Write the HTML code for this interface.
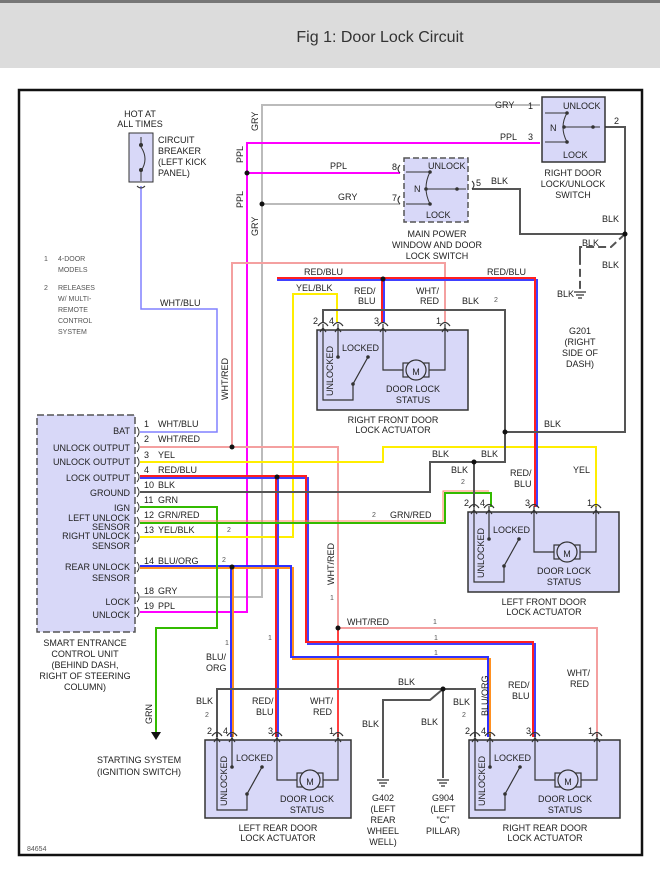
<!DOCTYPE html><html><head><style>body{margin:0;background:#fff}svg{display:block}text{font-family:"Liberation Sans",sans-serif;font-size:9px;fill:#222}.s{font-size:7px;fill:#555}.t{font-size:16px;fill:#333}</style></head><body>
<svg width="660" height="871" viewBox="0 0 660 871" xmlns="http://www.w3.org/2000/svg">
<rect x="0" y="0" width="660" height="68" fill="#dcdcdc"/><rect x="0" y="0" width="660" height="3" fill="#777"/>
<text class="t" x="380" y="42" text-anchor="middle">Fig 1: Door Lock Circuit</text>
<rect x="19" y="90" width="623" height="765" fill="none" stroke="#111" stroke-width="2.5"/>
<g fill="none" stroke-width="2">
<polyline points="141,186 141,309 217,309 217,432 140,432" stroke="#8080ff" stroke-width="1.5"/>
<polyline points="140,597 262,597 262,105 540,105" stroke="#bbb"/>
<polyline points="262,204 400,204" stroke="#bbb"/>
<polyline points="140,612 247,612 247,143 540,143" stroke="#ff00ff"/>
<polyline points="247,173 400,173" stroke="#ff00ff"/>
<polyline points="140,447 338,447 338,628 597,628 597,737" stroke="#f4a0a0"/>
<polyline points="232,447 232,263 445,263 445,322" stroke="#f4a0a0"/>
<polyline points="338,628 338,737" stroke="#ff4040"/>
<polyline points="140,462 383,462 383,447 596,447 596,507" stroke="#ffee00"/>
<polyline points="140,537 293,537 293,294 337,294 337,322" stroke="#ffee00"/>
<polyline points="140,478 308,478 308,644 535,644 535,737" stroke="#4040ff"/>
<polyline points="140,476 306,476 306,642 533,642 533,737" stroke="#ff2020"/>
<polyline points="278,477 278,737" stroke="#4040ff"/><polyline points="276,477 276,737" stroke="#ff2020"/>
<polyline points="277,280 537,280 537,507" stroke="#4040ff"/><polyline points="277,278 535,278 535,507" stroke="#ff2020"/>
<polyline points="384,279 384,322" stroke="#4040ff"/><polyline points="382,279 382,322" stroke="#ff2020"/>
<polyline points="140,568 293,568 293,659 490,659 490,737" stroke="#ff9020"/>
<polyline points="140,566 291,566 291,657 488,657 488,737" stroke="#3030ff"/>
<polyline points="233,567 233,737" stroke="#ff9020"/><polyline points="231,567 231,737" stroke="#3030ff"/>
<polyline points="140,507 217,507 217,628 156,628 156,732" stroke="#33bb00"/>
<polyline points="140,523 445,523 445,493 491,493 491,507" stroke="#33bb00"/>
<polyline points="140,521 443,521 443,491 489,491" stroke="#ff8060" stroke-width="1"/>
<g stroke="#555">
<polyline points="140,492 430,492 430,462 474,462 474,507"/>
<polyline points="474,462 505,462 505,310 323,310 323,322"/>
<polyline points="505,432 625,432 625,127 605,127"/>
<polyline points="472,189 520,189 520,234 625,234"/>
<polyline points="625,234 611,247 580,247 580,290" stroke-dasharray="8,4"/>
<polyline points="580,247 580,262"/>
<polyline points="217,737 217,689 472,689 475,689 475,737"/>
<polyline points="443,689 430,700 383,700 383,778"/>
<polyline points="443,689 443,778"/>
</g></g>
<g fill="#111"><circle cx="247" cy="173" r="2.5"/><circle cx="262" cy="204" r="2.5"/><circle cx="383" cy="279" r="2.5"/><circle cx="232" cy="447" r="2.5"/><circle cx="277" cy="477" r="2.5"/><circle cx="232" cy="567" r="2.5"/><circle cx="338" cy="628" r="2.5"/><circle cx="505" cy="432" r="2.5"/><circle cx="474" cy="462" r="2.5"/><circle cx="625" cy="234" r="2.5"/><circle cx="443" cy="689" r="2.5"/></g>
<g stroke="#333" stroke-width="1.2"><path d="M574,292h12M576,295h8M578,298h4M377,780h12M379,783h8M381,786h4M437,780h12M439,783h8M441,786h4"/></g>
<rect x="129" y="133" width="24" height="49" fill="#d8d8f8" stroke="#333"/>
<path d="M141,137v10q8,12 0,24v10M137,186q4,4 8,0" fill="none" stroke="#333"/>
<circle cx="141" cy="145" r="2" fill="#333"/><circle cx="141" cy="170" r="2" fill="#333"/>
<text x="140" y="117" text-anchor="middle">HOT AT</text><text x="140" y="127" text-anchor="middle">ALL TIMES</text>
<text x="158" y="143">CIRCUIT</text><text x="158" y="154">BREAKER</text><text x="158" y="165">(LEFT KICK</text><text x="158" y="176">PANEL)</text>
<text class="s" x="44" y="261">1</text><text class="s" x="58" y="261">4-DOOR</text><text class="s" x="58" y="272">MODELS</text>
<text class="s" x="44" y="290">2</text><text class="s" x="58" y="290">RELEASES</text><text class="s" x="58" y="301">W/ MULTI-</text><text class="s" x="58" y="312">REMOTE</text><text class="s" x="58" y="323">CONTROL</text><text class="s" x="58" y="334">SYSTEM</text>
<rect x="37" y="415" width="98" height="217" fill="#d8d8f8" stroke="#555" stroke-dasharray="7,3" stroke-width="1.5"/>
<g text-anchor="end"><text x="130" y="434">BAT</text><text x="130" y="451">UNLOCK OUTPUT</text><text x="130" y="465">UNLOCK OUTPUT</text><text x="130" y="481">LOCK OUTPUT</text><text x="130" y="496">GROUND</text><text x="130" y="511">IGN</text><text x="130" y="521">LEFT UNLOCK</text><text x="130" y="530">SENSOR</text><text x="130" y="539">RIGHT UNLOCK</text><text x="130" y="549">SENSOR</text><text x="130" y="570">REAR UNLOCK</text><text x="130" y="581">SENSOR</text><text x="130" y="605">LOCK</text><text x="130" y="618">UNLOCK</text></g>
<g text-anchor="middle"><text x="85" y="646">SMART ENTRANCE</text><text x="85" y="657">CONTROL UNIT</text><text x="85" y="668">(BEHIND DASH,</text><text x="85" y="679">RIGHT OF STEERING</text><text x="85" y="690">COLUMN)</text></g>
<g><text x="144" y="427">1</text><text x="158" y="427">WHT/BLU</text><text x="144" y="442">2</text><text x="158" y="442">WHT/RED</text><text x="144" y="458">3</text><text x="158" y="458">YEL</text><text x="144" y="473">4</text><text x="158" y="473">RED/BLU</text><text x="144" y="488">10</text><text x="158" y="488">BLK</text><text x="144" y="503">11</text><text x="158" y="503">GRN</text><text x="144" y="518">12</text><text x="158" y="518">GRN/RED</text><text x="144" y="533">13</text><text x="158" y="533">YEL/BLK</text><text x="144" y="564">14</text><text x="158" y="564">BLU/ORG</text><text x="144" y="594">18</text><text x="158" y="594">GRY</text><text x="144" y="609">19</text><text x="158" y="609">PPL</text></g>
<path d="M151,732l5,8l5,-8z" fill="#111"/>
<text x="97" y="763">STARTING SYSTEM</text><text x="97" y="775">(IGNITION SWITCH)</text>
<text x="160" y="306">WHT/BLU</text><text x="338" y="200">GRY</text><text x="330" y="169">PPL</text><text x="495" y="108">GRY</text><text x="500" y="140">PPL</text>
<text transform="translate(258,131) rotate(-90)">GRY</text><text transform="translate(258,236) rotate(-90)">GRY</text>
<text transform="translate(243,163) rotate(-90)">PPL</text><text transform="translate(243,208) rotate(-90)">PPL</text>
<text transform="translate(228,400) rotate(-90)">WHT/RED</text><text transform="translate(334,585) rotate(-90)">WHT/RED</text>
<text transform="translate(488,716) rotate(-90)">BLU/ORG</text><text transform="translate(152,724) rotate(-90)">GRN</text>
<text x="304" y="275">RED/BLU</text><text x="487" y="275">RED/BLU</text><text x="296" y="291">YEL/BLK</text>
<text x="354" y="294">RED/</text><text x="358" y="304">BLU</text><text x="416" y="294">WHT/</text><text x="420" y="304">RED</text><text x="462" y="304">BLK</text><text class="s" x="494" y="302">2</text>
<text x="491" y="184">BLK</text><text x="602" y="222">BLK</text><text x="582" y="246">BLK</text><text x="602" y="268">BLK</text><text x="557" y="297">BLK</text>
<g text-anchor="middle"><text x="580" y="334">G201</text><text x="580" y="345">(RIGHT</text><text x="580" y="356">SIDE OF</text><text x="580" y="367">DASH)</text></g>
<text x="544" y="427">BLK</text><text x="432" y="457">BLK</text><text x="481" y="457">BLK</text><text x="451" y="473">BLK</text><text class="s" x="461" y="484">2</text>
<text x="510" y="476">RED/</text><text x="514" y="487">BLU</text><text x="573" y="473">YEL</text>
<text x="390" y="518">GRN/RED</text><text class="s" x="372" y="517">2</text><text class="s" x="227" y="532">2</text><text class="s" x="222" y="562">2</text>
<text x="347" y="625">WHT/RED</text><text class="s" x="433" y="624">1</text><text class="s" x="434" y="640">1</text><text class="s" x="434" y="655">1</text><text class="s" x="330" y="600">1</text><text class="s" x="225" y="645">1</text><text class="s" x="268" y="640">1</text>
<text x="206" y="660">BLU/</text><text x="206" y="671">ORG</text>
<text x="196" y="704">BLK</text><text x="252" y="704">RED/</text><text x="256" y="715">BLU</text><text x="310" y="704">WHT/</text><text x="313" y="715">RED</text><text class="s" x="205" y="717">2</text>
<text x="398" y="685">BLK</text><text x="362" y="727">BLK</text><text x="421" y="725">BLK</text><text x="453" y="705">BLK</text><text class="s" x="462" y="717">2</text>
<text x="508" y="688">RED/</text><text x="512" y="699">BLU</text><text x="567" y="676">WHT/</text><text x="570" y="687">RED</text>
<g text-anchor="middle"><text x="383" y="801">G402</text><text x="383" y="812">(LEFT</text><text x="383" y="823">REAR</text><text x="383" y="834">WHEEL</text><text x="383" y="845">WELL)</text><text x="443" y="801">G904</text><text x="443" y="812">(LEFT</text><text x="443" y="823">"C"</text><text x="443" y="834">PILLAR)</text></g>
<text class="s" x="27" y="851">84654</text>
<rect x="404" y="158" width="64" height="64" fill="#d8d8f8" stroke="#555" stroke-dasharray="6,3" stroke-width="1.5"/>
<g stroke="#333" fill="none"><path d="M430,172h-24M430,204h-24M430,172q-8,16 0,32M426,189h40M400,173q-4,-4 0,-8M400,204q-4,-4 0,-8M472,189q4,-4 0,-8"/></g>
<g fill="#333"><circle cx="430" cy="172" r="1.8"/><circle cx="430" cy="204" r="1.8"/><circle cx="426" cy="189" r="1.8"/><circle cx="457" cy="189" r="1.8"/></g>
<text x="428" y="169">UNLOCK</text><text x="414" y="192">N</text><text x="426" y="218">LOCK</text><text x="392" y="170">8</text><text x="392" y="201">7</text><text x="476" y="186">5</text>
<g text-anchor="middle"><text x="437" y="237">MAIN POWER</text><text x="437" y="248">WINDOW AND DOOR</text><text x="437" y="259">LOCK SWITCH</text></g>
<rect x="542" y="97" width="63" height="65" fill="#d8d8f8" stroke="#333" stroke-width="1.5"/>
<g stroke="#333" fill="none"><path d="M567,113h-22M567,142h-22M567,113q-8,14 0,29M564,127h36"/></g>
<g fill="#333"><circle cx="567" cy="113" r="1.8"/><circle cx="567" cy="142" r="1.8"/><circle cx="564" cy="127" r="1.8"/><circle cx="593" cy="127" r="1.8"/></g>
<text x="563" y="109">UNLOCK</text><text x="550" y="131">N</text><text x="563" y="158">LOCK</text><text x="528" y="109">1</text><text x="528" y="140">3</text><text x="614" y="124">2</text>
<g text-anchor="middle"><text x="573" y="176">RIGHT DOOR</text><text x="573" y="187">LOCK/UNLOCK</text><text x="573" y="198">SWITCH</text></g>
<g transform="translate(317,330)">
<rect x="0" y="0" width="151" height="80" fill="#d8d8f8" stroke="#333" stroke-width="1.5"/>
<g fill="none" stroke="#333" stroke-width="1.2"><path d="M6,-6V70H36V54M21,-6V27M36,54L51,27M66,-6V40H86M112,40H128V-6M1,-4q5,-7 10,0M16,-4q5,-7 10,0M61,-4q5,-7 10,0M123,-4q5,-7 10,0M3,2l3,-4 3,4M18,2l3,-4 3,4M63,2l3,-4 3,4M125,2l3,-4 3,4"/><rect x="86" y="33" width="26" height="14"/><circle cx="99" cy="40" r="10" fill="#d8d8f8"/></g>
<g fill="#333"><circle cx="21" cy="27" r="1.8"/><circle cx="36" cy="54" r="1.8"/><circle cx="51" cy="27" r="1.8"/></g>
<text x="-4" y="-6">2</text><text x="12" y="-6">4</text><text x="57" y="-6">3</text><text x="119" y="-6">1</text>
<text x="25" y="21">LOCKED</text><text transform="translate(16,66) rotate(-90)">UNLOCKED</text><text x="99" y="45" text-anchor="middle" font-size="13">M</text>
<text x="96" y="62" text-anchor="middle">DOOR LOCK</text><text x="96" y="73" text-anchor="middle">STATUS</text>
<text x="76" y="93" text-anchor="middle">RIGHT FRONT DOOR</text><text x="76" y="103" text-anchor="middle">LOCK ACTUATOR</text></g>
<g transform="translate(468,512)">
<rect x="0" y="0" width="151" height="80" fill="#d8d8f8" stroke="#333" stroke-width="1.5"/>
<g fill="none" stroke="#333" stroke-width="1.2"><path d="M6,-6V70H36V54M21,-6V27M36,54L51,27M66,-6V40H86M112,40H128V-6M1,-4q5,-7 10,0M16,-4q5,-7 10,0M61,-4q5,-7 10,0M123,-4q5,-7 10,0M3,2l3,-4 3,4M18,2l3,-4 3,4M63,2l3,-4 3,4M125,2l3,-4 3,4"/><rect x="86" y="33" width="26" height="14"/><circle cx="99" cy="40" r="10" fill="#d8d8f8"/></g>
<g fill="#333"><circle cx="21" cy="27" r="1.8"/><circle cx="36" cy="54" r="1.8"/><circle cx="51" cy="27" r="1.8"/></g>
<text x="-4" y="-6">2</text><text x="12" y="-6">4</text><text x="57" y="-6">3</text><text x="119" y="-6">1</text>
<text x="25" y="21">LOCKED</text><text transform="translate(16,66) rotate(-90)">UNLOCKED</text><text x="99" y="45" text-anchor="middle" font-size="13">M</text>
<text x="96" y="62" text-anchor="middle">DOOR LOCK</text><text x="96" y="73" text-anchor="middle">STATUS</text>
<text x="76" y="93" text-anchor="middle">LEFT FRONT DOOR</text><text x="76" y="103" text-anchor="middle">LOCK ACTUATOR</text></g>
<g transform="translate(211,740)">
<rect x="-6" y="0" width="146" height="78" fill="#d8d8f8" stroke="#333" stroke-width="1.5"/>
<g fill="none" stroke="#333" stroke-width="1.2"><path d="M6,-6V70H36V54M21,-6V27M36,54L51,27M66,-6V40H86M112,40H127V-6M1,-4q5,-7 10,0M16,-4q5,-7 10,0M61,-4q5,-7 10,0M122,-4q5,-7 10,0M3,2l3,-4 3,4M18,2l3,-4 3,4M63,2l3,-4 3,4M124,2l3,-4 3,4"/><rect x="86" y="33" width="26" height="14"/><circle cx="99" cy="40" r="10" fill="#d8d8f8"/></g>
<g fill="#333"><circle cx="21" cy="27" r="1.8"/><circle cx="36" cy="54" r="1.8"/><circle cx="51" cy="27" r="1.8"/></g>
<text x="-4" y="-6">2</text><text x="12" y="-6">4</text><text x="57" y="-6">3</text><text x="118" y="-6">1</text>
<text x="25" y="21">LOCKED</text><text transform="translate(16,66) rotate(-90)">UNLOCKED</text><text x="99" y="45" text-anchor="middle" font-size="13">M</text>
<text x="96" y="62" text-anchor="middle">DOOR LOCK</text><text x="96" y="73" text-anchor="middle">STATUS</text>
<text x="67" y="91" text-anchor="middle">LEFT REAR DOOR</text><text x="67" y="101" text-anchor="middle">LOCK ACTUATOR</text></g>
<g transform="translate(469,740)">
<rect x="0" y="0" width="151" height="78" fill="#d8d8f8" stroke="#333" stroke-width="1.5"/>
<g fill="none" stroke="#333" stroke-width="1.2"><path d="M6,-6V70H36V54M21,-6V27M36,54L51,27M66,-6V40H86M112,40H128V-6M1,-4q5,-7 10,0M16,-4q5,-7 10,0M61,-4q5,-7 10,0M123,-4q5,-7 10,0M3,2l3,-4 3,4M18,2l3,-4 3,4M63,2l3,-4 3,4M125,2l3,-4 3,4"/><rect x="86" y="33" width="26" height="14"/><circle cx="99" cy="40" r="10" fill="#d8d8f8"/></g>
<g fill="#333"><circle cx="21" cy="27" r="1.8"/><circle cx="36" cy="54" r="1.8"/><circle cx="51" cy="27" r="1.8"/></g>
<text x="-4" y="-6">2</text><text x="12" y="-6">4</text><text x="57" y="-6">3</text><text x="119" y="-6">1</text>
<text x="25" y="21">LOCKED</text><text transform="translate(16,66) rotate(-90)">UNLOCKED</text><text x="99" y="45" text-anchor="middle" font-size="13">M</text>
<text x="96" y="62" text-anchor="middle">DOOR LOCK</text><text x="96" y="73" text-anchor="middle">STATUS</text>
<text x="76" y="91" text-anchor="middle">RIGHT REAR DOOR</text><text x="76" y="101" text-anchor="middle">LOCK ACTUATOR</text></g>
<g fill="none" stroke="#333"><path d="M137,427q4,5 0,10M137,442q4,5 0,10M137,457q4,5 0,10M137,472q4,5 0,10M137,487q4,5 0,10M137,502q4,5 0,10M137,517q4,5 0,10M137,532q4,5 0,10M137,562q4,5 0,10M137,592q4,5 0,10M137,607q4,5 0,10"/></g>
</svg></body></html>
